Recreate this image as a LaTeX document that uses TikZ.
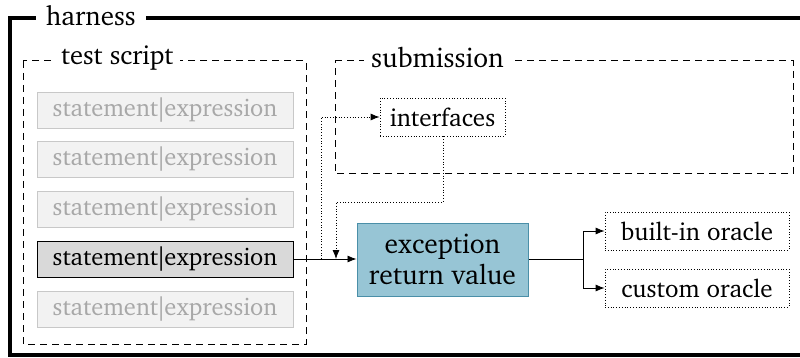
\documentclass[tikz,border=0pt]{standalone}
\usepackage[T1]{fontenc}
\usepackage{charter}
\usetikzlibrary{arrows.meta,calc}
\definecolor{stmtfill}{HTML}{F2F2F2}
\definecolor{stmtdraw}{HTML}{C8C8C8}
\definecolor{stmttext}{HTML}{A8A8A8}
\definecolor{actfill}{HTML}{D9D9D9}
\definecolor{excfill}{HTML}{97C5D5}
\definecolor{excdraw}{HTML}{4A8FA8}
\newcommand{\stmtxt}{statement\kern-0.12em|\kern-0.12em expression}
\tikzset{
  framelabel/.style={fill=white,inner xsep=4pt,inner ysep=1pt,font=\fontsize{27}{30}\selectfont,text=black,anchor=west},
  dashbox/.style={draw,line width=1pt,dash pattern=on 7pt off 5pt},
  stmt/.style={draw=stmtdraw,fill=stmtfill,text=stmttext,minimum width=256pt,minimum height=36pt,inner sep=0pt,font=\fontsize{24.5}{27}\selectfont,line width=0.8pt},
  active/.style={stmt,draw=black,fill=actfill,text=black},
  dotbox/.style={draw,dotted,line width=0.8pt,inner sep=0pt,font=\fontsize{25}{28}\selectfont},
  excbox/.style={draw=excdraw,fill=excfill,line width=1pt,minimum width=171pt,minimum height=73pt,inner sep=0pt,align=center,font=\fontsize{27.5}{31}\selectfont},
  conn/.style={line width=0.8pt,-{Latex[length=9pt,width=7pt]}},
  dconn/.style={line width=0.8pt,dotted,-{Latex[length=9pt,width=7pt]}},
}
\begin{document}
\begin{tikzpicture}[x=1pt,y=-1pt]
\useasboundingbox (0,0) rectangle (800,358);
% harness frame
\draw[line width=3.5pt] (10,355) -- (10,18) -- (820,18) -- (820,355) -- cycle;
\node[framelabel,inner xsep=10pt] (harness) at (36,16) {harness};
% test script box
\draw[dashbox] (23,61) rectangle (306,344);
\node[framelabel,font=\fontsize{26.5}{29}\selectfont,inner xsep=7pt] (tslabel) at (54,58) {test script};
% submission box
\draw[dashbox] (335,61) -- (793,61) -- (793,174) -- (335,174) -- cycle;
\node[framelabel,font=\fontsize{27.5}{30}\selectfont,inner xsep=7pt] (sublabel) at (364,58) {submission};
% statements
\node[stmt] (s1) at (165,110) {\stmtxt};
\node[stmt] (s2) at (165,159) {\stmtxt};
\node[stmt] (s3) at (165,209) {\stmtxt};
\node[active] (s4) at (165,259) {\stmtxt};
\node[stmt] (s5) at (165,309) {\stmtxt};
% interfaces
\node[dotbox,minimum width=125pt,minimum height=38pt] (intf) at (442.5,117) {interfaces};
% exception
\node[excbox] (exc) at (442.5,259.5) {exception\\return value};
% oracles
\node[dotbox,minimum width=184pt,minimum height=38pt] (bio) at (697,231) {built-in oracle};
\node[dotbox,minimum width=184pt,minimum height=38pt] (cuo) at (697,288) {custom oracle};
% connectors
\draw[conn] (s4.east) -- (exc.west |- s4.east);
\coordinate (up) at (321,259);
\draw[dconn] (up) |- (intf.west);
\coordinate (dn1) at (443,202);
\coordinate (dn2) at (336,202);
\draw[dconn] (intf.south -| dn1) -- (dn1) -- (dn2) -- (dn2 |- s4.east);
\coordinate (br) at (583,259.5);
\draw[line width=0.8pt] (exc.east) -- (br);
\draw[conn] (br) |- (bio.west);
\draw[conn] (br) |- (cuo.west);
\end{tikzpicture}
\end{document}
